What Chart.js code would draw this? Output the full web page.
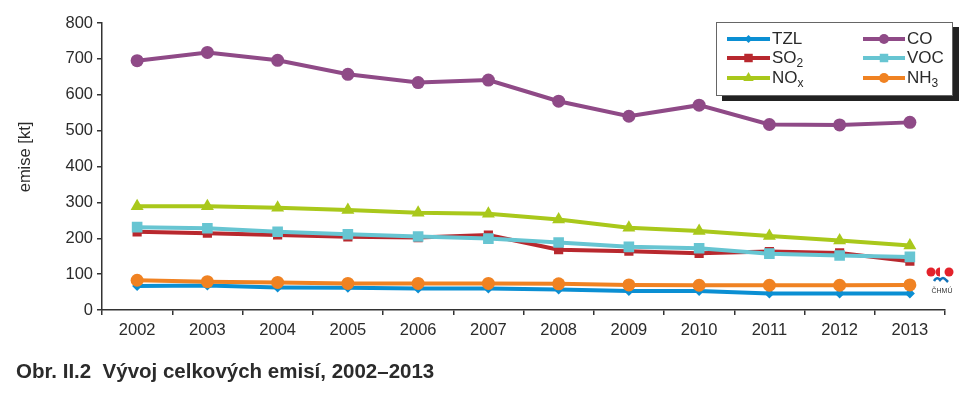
<!DOCTYPE html>
<html>
<head>
<meta charset="utf-8">
<script src="https://cdn.jsdelivr.net/npm/chart.js@4.4.1/dist/chart.umd.min.js"></script>
<style>
    body { margin: 0; background: #fff; }
    #wrap { position: relative; width: 976px; height: 399px; }
    #app-chart { position: absolute; left: 0; top: 0; }
    #caption {
        position: absolute; left: 16px; top: 361px;
        font: bold 20.5px "Liberation Sans", Arial, sans-serif; line-height: 20px;
        color: #2b2b2b; white-space: pre;
    }
</style>
</head>
<body>
<div id="wrap">
    <canvas id="app-chart" width="976" height="399"></canvas>
    <div id="caption">Obr. II.2  Vývoj celkových emisí, 2002–2013</div>
</div>
<script>
//======================================================================================================================
// Data
//======================================================================================================================

var years = ['2002', '2003', '2004', '2005', '2006', '2007', '2008', '2009', '2010', '2011', '2012', '2013'];

var tzl = [67, 68, 63, 62, 60, 60, 57, 53, 53, 46, 46, 46];
var so2 = [218, 214, 209, 204, 202, 209, 168, 164, 158, 163, 159, 136];
var nox = [289, 289, 285, 279, 271, 268, 252, 229, 220, 206, 194, 180];
var co  = [695, 718, 696, 657, 634, 641, 582, 540, 571, 517, 516, 523];
var voc = [231, 228, 218, 211, 205, 199, 188, 176, 172, 157, 152, 148];
var nh3 = [83, 79, 77, 74, 74, 74, 73, 70, 69, 69, 69, 70];

// legend text: [main, subscript]
var legendLabels = [['TZL', ''], ['SO', '2'], ['NO', 'x'], ['CO', ''], ['VOC', ''], ['NH', '3']];

//======================================================================================================================
// Chart
//======================================================================================================================

var font = '"Liberation Sans", Arial, sans-serif';
var textColor = '#2b2b2b';

function series(label, data, color, style, radius, order, legendRadius) {
    return {
        label: label,
        data: data,
        borderColor: color,
        backgroundColor: color,
        borderWidth: 4,
        pointStyle: style,
        pointRadius: radius,
        pointHoverRadius: radius,
        pointBorderWidth: 0,
        order: order,
        legendRadius: legendRadius,
        tension: 0
    };
}

// hand-drawn legend box (subscripts), y title and CHMU mark
var decorations = {
    id: 'decorations',
    afterDraw: function(chart) {
        var ctx = chart.ctx;
        ctx.save();

        // y axis title
        ctx.translate(25, 157);
        ctx.rotate(-Math.PI / 2);
        ctx.fillStyle = textColor;
        ctx.font = '16.5px ' + font;
        ctx.textAlign = 'center';
        ctx.textBaseline = 'middle';
        ctx.fillText('emise [kt]', 0, 0);
        ctx.setTransform(1, 0, 0, 1, 0, 0);

        // legend box with shadow
        ctx.fillStyle = '#222';
        ctx.fillRect(722, 27, 237, 74);
        ctx.fillStyle = '#fff';
        ctx.fillRect(716, 22, 237, 74);
        ctx.strokeStyle = '#666';
        ctx.lineWidth = 1;
        ctx.strokeRect(716.5, 22.5, 236, 73);

        var rows = [39, 58, 78];
        chart.data.datasets.forEach(function(ds, i) {
            var col = i < 3 ? 0 : 1;
            var y = rows[i % 3];
            var x0 = col ? 863 : 727;
            var x1 = col ? 905 : 770;

            ctx.strokeStyle = ds.borderColor;
            ctx.lineWidth = 4;
            ctx.beginPath();
            ctx.moveTo(x0, y);
            ctx.lineTo(x1, y);
            ctx.stroke();

            ctx.fillStyle = ds.backgroundColor;
            Chart.helpers.drawPoint(ctx, {pointStyle: ds.pointStyle, radius: ds.legendRadius, borderWidth: 0}, (x0 + x1) / 2, y);

            var lbl = legendLabels[i];
            ctx.fillStyle = textColor;
            ctx.textAlign = 'left';
            ctx.textBaseline = 'middle';
            ctx.font = '17px ' + font;
            ctx.fillText(lbl[0], x1 + 2, y);
            if (lbl[1]) {
                var w = ctx.measureText(lbl[0]).width;
                ctx.font = '12px ' + font;
                ctx.fillText(lbl[1], x1 + 2 + w, y + 6);
            }
        });

        // CHMU mark
        ctx.fillStyle = '#e3222b';
        ctx.beginPath(); ctx.arc(931, 272, 4.5, 0, Math.PI * 2); ctx.fill();
        ctx.beginPath(); ctx.arc(940, 272, 4.5, Math.PI / 2, Math.PI * 1.5, false); ctx.fill();
        ctx.beginPath(); ctx.arc(949, 272, 4.5, 0, Math.PI * 2); ctx.fill();
        ctx.strokeStyle = '#1372b8';
        ctx.lineWidth = 2.5;
        ctx.beginPath();
        ctx.moveTo(934, 281);
        ctx.quadraticCurveTo(937, 276, 940, 280);
        ctx.quadraticCurveTo(943, 276, 946, 280);
        ctx.lineTo(948, 282);
        ctx.stroke();
        ctx.fillStyle = '#333';
        ctx.font = '7px ' + font;
        ctx.textAlign = 'center';
        ctx.fillText('ČHMÚ', 942, 291);

        ctx.restore();
    }
};

new Chart(document.getElementById('app-chart'), {
    type: 'line',
    data: {
        labels: years,
        datasets: [
            series('TZL', tzl, '#0b8fd3', 'rectRot', 5, 3, 4),
            series('SO2', so2, '#b8282e', 'rect', 6.5, 3, 6),
            series('NOx', nox, '#a9c81b', 'triangle', 7.5, 2, 6),
            series('CO', co, '#8f4a87', 'circle', 6.5, 1, 5),
            series('VOC', voc, '#67c5d2', 'rect', 7.5, 2, 6),
            series('NH3', nh3, '#f08222', 'circle', 6.5, 2, 5)
        ]
    },
    options: {
        responsive: false,
        animation: false,
        devicePixelRatio: 1,
        layout: {
            padding: {left: 0, right: 31, top: 23, bottom: 0}
        },
        plugins: {
            legend: {
                display: false
            },
            tooltip: {
                enabled: false
            }
        },
        scales: {
            x: {
                offset: true,
                afterFit: function(scale) { scale.height = 89; },
                grid: {
                    offset: true,
                    drawOnChartArea: false,
                    color: '#333',
                    tickLength: 5,
                    lineWidth: 1.5
                },
                border: {
                    color: '#333',
                    width: 1.5
                },
                ticks: {
                    color: textColor,
                    padding: 6,
                    maxRotation: 0,
                    font: {family: font, size: 16.5}
                }
            },
            y: {
                min: 0,
                max: 800,
                afterFit: function(scale) { scale.width = 102; },
                grid: {
                    drawOnChartArea: false,
                    color: '#333',
                    tickLength: 5,
                    lineWidth: 1.5
                },
                border: {
                    color: '#333',
                    width: 1.5
                },
                ticks: {
                    stepSize: 100,
                    color: textColor,
                    padding: 4,
                    font: {family: font, size: 16.5}
                }
            }
        }
    },
    plugins: [decorations]
});
</script>
</body>
</html>
